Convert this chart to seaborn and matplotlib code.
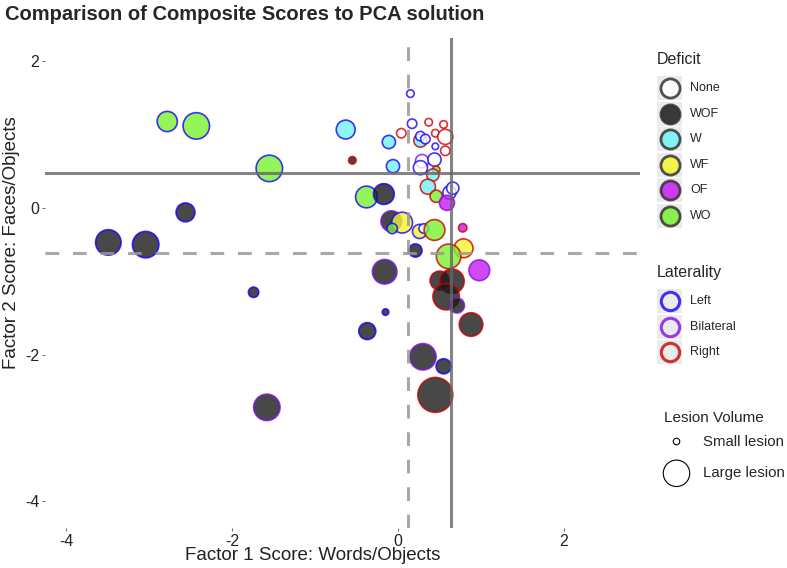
"""
Composite scores vs PCA factor scores, coloured by deficit and laterality.

Run: python3 plot.py
"""

import numpy as np
import pandas as pd
import matplotlib
matplotlib.use("Agg")
import matplotlib.pyplot as plt
import seaborn as sns
from matplotlib.patches import Rectangle

# ---- data ----
factor1 = [-2.78, -2.43, -1.55, -2.56, -3.49, -3.04, -1.74, -1.58,
           -0.63, -0.55, -0.11, -0.06, -0.38, -0.17, -0.08, 0.05,
           -0.07, -0.16, -0.15, -0.37, 0.21, 0.26, 0.31, 0.44,
           0.78, 0.79, 0.61, 0.98, 0.50, 0.65, 0.58, 0.71,
           0.88, 0.30, 0.55, 0.45, 0.15, 0.17, 0.04, 0.37,
           0.55, 0.45, 0.57, 0.27, 0.27, 0.33, 0.45, 0.57,
           0.29, 0.44, 0.27, 0.46, 0.42, 0.36, 0.46, 0.62,
           0.66, 0.59]
factor2 = [1.18, 1.12, 0.54, -0.06, -0.47, -0.50, -1.15, -2.72,
           1.07, 0.65, 0.90, 0.57, 0.15, 0.19, -0.18, -0.20,
           -0.28, -0.87, -1.42, -1.68, -0.58, -0.32, -0.28, -0.30,
           -0.27, -0.55, -0.66, -0.85, -0.99, -1.00, -1.21, -1.33,
           -1.59, -2.03, -2.16, -2.55, 1.56, 1.15, 1.02, 1.17,
           1.14, 1.02, 0.97, 0.92, 0.98, 0.94, 0.84, 0.78,
           0.64, 0.66, 0.55, 0.52, 0.45, 0.29, 0.16, 0.21,
           0.27, 0.07]
lesion_vol = [114, 196, 196, 100, 182, 196, 30, 196,
              100, 16, 49, 49, 132, 121, 121, 121,
              30, 169, 12, 81, 49, 56, 25, 121,
              20, 100, 169, 121, 100, 169, 196, 64,
              156, 196, 64, 342, 16, 25, 25, 16,
              16, 16, 64, 49, 25, 25, 12, 25,
              49, 49, 56, 16, 42, 64, 42, 49,
              42, 64]
deficit = ["WO", "WO", "WO", "WOF", "WOF", "WOF", "WOF", "WOF",
           "W", "WOF", "W", "W", "WO", "WOF", "WOF", "WF",
           "WO", "WOF", "WOF", "WOF", "WOF", "WF", "None", "WO",
           "OF", "WF", "WO", "OF", "WOF", "WOF", "WOF", "WOF",
           "WOF", "WOF", "WOF", "WOF", "None", "None", "None", "None",
           "None", "None", "None", "W", "None", "None", "None", "None",
           "None", "None", "None", "WO", "W", "W", "WO", "None",
           "None", "OF"]
laterality = ["Left", "Left", "Left", "Left", "Left", "Left", "Left", "Bilateral",
              "Left", "Right", "Left", "Left", "Left", "Left", "Bilateral", "Left",
              "Left", "Bilateral", "Left", "Left", "Left", "Left", "Left", "Right",
              "Right", "Right", "Right", "Bilateral", "Right", "Right", "Right", "Bilateral",
              "Right", "Bilateral", "Left", "Right", "Left", "Left", "Right", "Right",
              "Right", "Right", "Right", "Right", "Left", "Left", "Left", "Right",
              "Bilateral", "Left", "Left", "Right", "Right", "Right", "Right", "Left",
              "Left", "Bilateral"]

DEFICIT_LEVELS = ["None", "WOF", "W", "WF", "OF", "WO"]
LATERALITY_LEVELS = ["Left", "Bilateral", "Right"]

# cut-offs drawn as reference lines
F1_DASH, F1_SOLID = 0.117, 0.639
F2_SOLID, F2_DASH = 0.471, -0.614

DEFICIT_COLORS = {"None": "#ffffff", "WOF": "#1a1a1a", "W": "#72f4f6",
                  "WF": "#f4f431", "OF": "#c51df2", "WO": "#79f231"}
LAT_COLORS = {"Left": "#1400ff", "Bilateral": "#7f10e6", "Right": "#cc0000"}

df = pd.DataFrame({"factor1": factor1, "factor2": factor2, "vol": lesion_vol,
                   "deficit": deficit, "laterality": laterality})

sns.set_theme(style="white")
plt.rcParams["font.family"] = ["Liberation Sans", "DejaVu Sans"]
plt.rcParams["axes.unicode_minus"] = False

W, H = 787, 568
fig = plt.figure(figsize=(W / 100, H / 100), dpi=100)
ax = fig.add_axes([45 / W, 1 - 528 / H, 595 / W, 490 / H])

sns.scatterplot(data=df, x="factor1", y="factor2", hue="deficit",
                palette=DEFICIT_COLORS, size="vol", sizes=(0, 740),
                size_norm=(0, 400),
                edgecolor=[LAT_COLORS[l] for l in df["laterality"]],
                linewidth=1.2, alpha=0.8, legend=False, ax=ax, zorder=2)

ax.axvline(F1_DASH, color="#999999", lw=2.2, ls=(0, (4.5, 4.5)), alpha=0.85, zorder=3)
ax.axhline(F2_DASH, color="#999999", lw=2.2, ls=(0, (4.5, 4.5)), alpha=0.85, zorder=3)
ax.axvline(F1_SOLID, color="#666666", lw=2.2, alpha=0.8, zorder=3)
ax.axhline(F2_SOLID, color="#666666", lw=2.2, alpha=0.8, zorder=3)

ax.set_xlim(-4.253, 2.916)
ax.set_ylim(-4.366, 2.319)
ax.set_xticks([-4, -2, 0, 2])
ax.set_yticks([-4, -2, 0, 2])
ax.tick_params(length=2.5, width=0.6, color="#555555", labelsize=11.5,
               labelcolor="#222222", pad=1.5, bottom=True, left=True)
for s in ax.spines.values():
    s.set_visible(False)

ax.set_xlabel("Factor 1 Score: Words/Objects", fontsize=13.5, color="#222222")
ax.set_ylabel("Factor 2 Score: Faces/Objects", fontsize=13.5, color="#222222")
ax.xaxis.set_label_coords((313 - 45) / 595, (528 - 556) / 490)
ax.yaxis.set_label_coords((12 - 45) / 595, (528 - 243) / 490)
ax.xaxis.label.set_va("center")
ax.yaxis.label.set_va("center")

fig.text(5 / W, 1 - 15 / H, "Comparison of Composite Scores to PCA solution",
         fontsize=14.5, fontweight="bold", va="center", ha="left")

# ---- legends, drawn in pixel space ----
lax = fig.add_axes([0, 0, 1, 1], zorder=5)
lax.set_xlim(0, W)
lax.set_ylim(H, 0)
lax.axis("off")

lax.text(657, 60, "Deficit", fontsize=11.5, va="center")
for i, lev in enumerate(DEFICIT_LEVELS):
    y = 88.3 + i * 25.5
    lax.add_patch(Rectangle((657, y - 12), 25, 24, color="#ebebeb", lw=0))
    lax.scatter(669.5, y, s=190, facecolor=DEFICIT_COLORS[lev],
                edgecolor="#333333", linewidth=2, alpha=0.85)
    lax.text(690, y, lev, fontsize=9, va="center")

lax.text(657, 273, "Laterality", fontsize=11.5, va="center")
for i, lev in enumerate(LATERALITY_LEVELS):
    y = 301 + i * 25.7
    lax.add_patch(Rectangle((657, y - 12), 25, 24, color="#ebebeb", lw=0))
    lax.scatter(669.5, y, s=175, facecolor="#ebebeb",
                edgecolor=LAT_COLORS[lev], linewidth=2.2, alpha=0.8)
    lax.text(690, y, lev, fontsize=9, va="center")

lax.text(664, 418, "Lesion Volume", fontsize=11, va="center")
for y, vol, lab in [(441.5, 12, "Small lesion"), (473.3, 196, "Large lesion")]:
    lax.scatter(676.5, y, s=vol * 740 / 400, facecolor="none",
                edgecolor="black", linewidth=0.8)
    lax.text(703, y, lab, fontsize=10.8, va="center")

fig.savefig("out.png", dpi=100)
